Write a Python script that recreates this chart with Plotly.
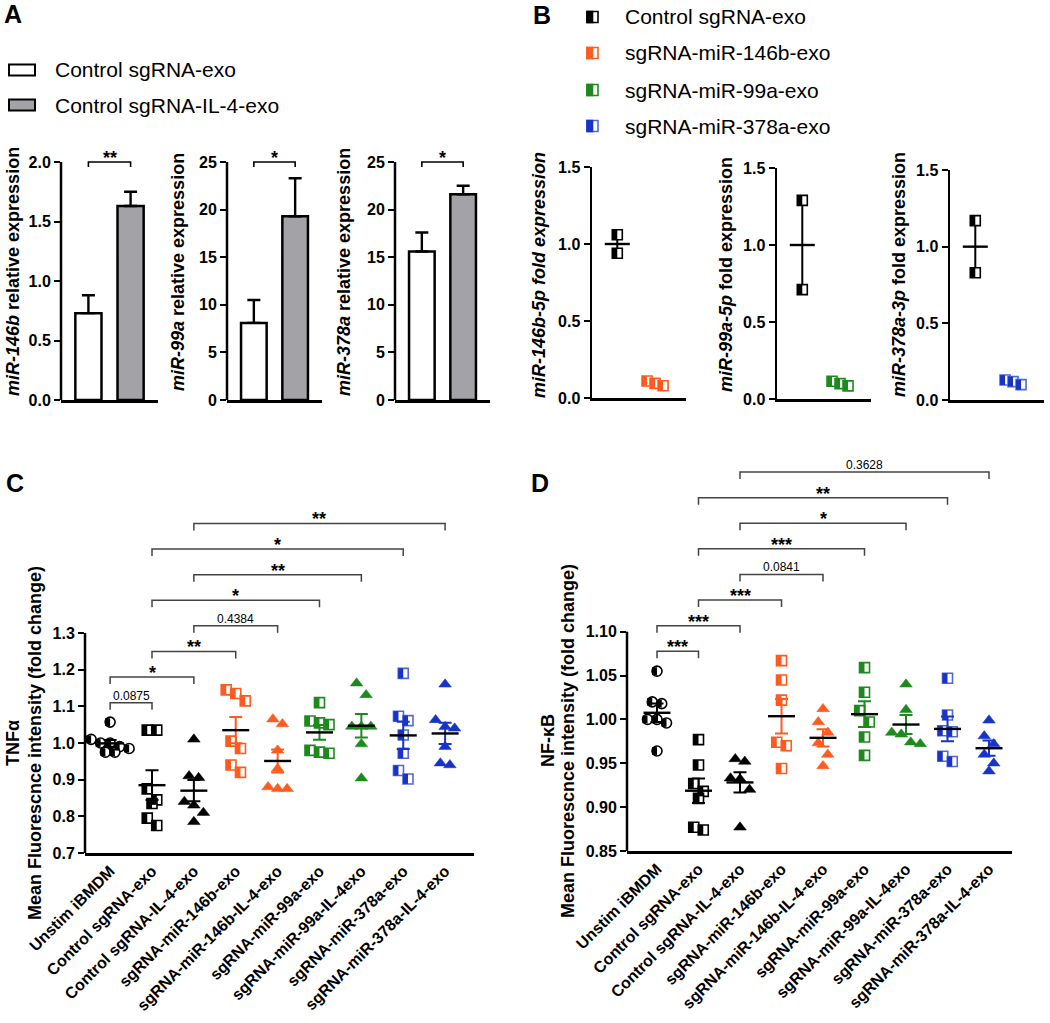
import numpy as np
import plotly.graph_objects as go

W, H = 1050, 1023
FONT = "Arial, 'Liberation Sans', Helvetica, sans-serif"

ORANGE = "#FF5A1F"
GREEN = "#1E8A1E"
BLUE = "#1834C8"
BLUE_EDGE = "#5068DC"
GRAY = "#A3A3A7"

# ---------------- Panel A data ----------------
a_groups = ["Control sgRNA-exo", "Control sgRNA-IL-4-exo"]
a_mir146b_mean = [0.73, 1.63]
a_mir146b_sem = [0.15, 0.12]
a_mir99a_mean = [8.1, 19.3]
a_mir99a_sem = [2.4, 4.0]
a_mir378a_mean = [15.6, 21.6]
a_mir378a_sem = [2.0, 0.9]
a_sig = ["**", "*", "*"]
a_ticks_146b = [0, 0.5, 1.0, 1.5, 2.0]
a_ticks_99a = [0, 5, 10, 15, 20, 25]
a_ticks_378a = [0, 5, 10, 15, 20, 25]
a_titles = ["<b><i>miR-146b</i> relative expression</b>",
            "<b><i>miR-99a</i> relative expression</b>",
            "<b><i>miR-378a</i> relative expression</b>"]

# ---------------- Panel B data ----------------
b_groups = ["Control sgRNA-exo", "sgRNA-miR-146b-exo", "sgRNA-miR-99a-exo", "sgRNA-miR-378a-exo"]
b_mir146b_ctrl = [1.06, 0.94]
b_mir146b_ko = [0.11, 0.095, 0.08]
b_mir99a_ctrl = [1.29, 0.71]
b_mir99a_ko = [0.115, 0.10, 0.085]
b_mir378a_ctrl = [1.17, 0.83]
b_mir378a_ko = [0.13, 0.12, 0.10]
b_ticks = [0.0, 0.5, 1.0, 1.5]
b_titles = ["<b><i>miR-146b-5p fold expression</i></b>",
            "<b><i>miR-99a-5p</i> fold expression</b>",
            "<b><i>miR-378a-3p</i> fold expression</b>"]

# ---------------- Panel C / D data ----------------
cd_groups = ["Unstim iBMDM", "Control sgRNA-exo", "Control sgRNA-IL-4-exo",
             "sgRNA-miR-146b-exo", "sgRNA-miR-146b-IL-4-exo", "sgRNA-miR-99a-exo",
             "sgRNA-miR-99a-IL-4exo", "sgRNA-miR-378a-exo", "sgRNA-miR-378a-IL-4-exo"]

tnf_unstim = [1.057, 1.01, 1.0, 1.0, 0.99, 0.985, 0.975, 0.975]
tnf_ctrl = [1.035, 1.035, 0.875, 0.845, 0.835, 0.795, 0.775]
tnf_ctrl_il4 = [1.01, 0.91, 0.905, 0.84, 0.83, 0.81, 0.785]
tnf_146b = [1.145, 1.135, 1.115, 1.005, 0.985, 0.94, 0.92]
tnf_146b_il4 = [1.065, 1.052, 0.98, 0.93, 0.88, 0.875, 0.875]
tnf_99a = [1.11, 1.06, 1.055, 1.05, 0.98, 0.975, 0.972]
tnf_99a_il4 = [1.163, 1.131, 1.045, 1.045, 1.045, 0.997, 0.904]
tnf_378a = [1.19, 1.073, 1.061, 1.022, 0.972, 0.925, 0.902]
tnf_378a_il4 = [1.16, 1.063, 1.044, 1.04, 0.99, 0.945, 0.94]
tnf_ticks = [0.7, 0.8, 0.9, 1.0, 1.1, 1.2, 1.3]
tnf_comparisons = [(0, 1, "0.0875"), (0, 2, "*"), (1, 3, "**"), (2, 4, "0.4384"),
                   (1, 5, "*"), (2, 6, "**"), (1, 7, "*"), (2, 8, "**")]

nf_unstim = [1.055, 1.02, 1.018, 1.0, 1.0, 0.996, 0.964]
nf_ctrl = [0.977, 0.948, 0.927, 0.918, 0.91, 0.877, 0.874]
nf_ctrl_il4 = [0.955, 0.952, 0.933, 0.932, 0.92, 0.877]
nf_146b = [1.067, 1.045, 1.022, 0.974, 0.97, 0.944]
nf_146b_il4 = [1.012, 0.997, 0.985, 0.973, 0.96, 0.947]
nf_99a = [1.059, 1.031, 1.01, 0.997, 0.98, 0.959]
nf_99a_il4 = [1.04, 1.011, 0.985, 0.983, 0.974, 0.972]
nf_378a = [1.047, 1.005, 0.987, 0.986, 0.958, 0.952]
nf_378a_il4 = [0.999, 0.981, 0.972, 0.96, 0.95, 0.941]
nf_ticks = [0.85, 0.90, 0.95, 1.00, 1.05, 1.10]
nf_comparisons = [(0, 1, "***"), (0, 2, "***"), (1, 3, "***"), (2, 4, "0.0841"),
                  (1, 5, "***"), (2, 6, "*"), (1, 7, "**"), (2, 8, "0.3628")]

# marker style per group (symbol, colour, half-filled, edge colour, error-bar colour)
cd_style = [
    ("circle", "black", True, "black", "black"),
    ("square", "black", True, "black", "black"),
    ("triangle-up", "black", False, "black", "black"),
    ("square", ORANGE, True, ORANGE, ORANGE),
    ("triangle-up", ORANGE, False, ORANGE, ORANGE),
    ("square", GREEN, True, GREEN, GREEN),
    ("triangle-up", GREEN, False, GREEN, GREEN),
    ("square", BLUE, True, BLUE_EDGE, BLUE),
    ("triangle-up", BLUE, False, BLUE, BLUE),
]

# ---------------- helpers ----------------
fig = go.Figure()
shapes, annotations = [], []
layout = dict(width=W, height=H, margin=dict(l=0, r=0, t=0, b=0, pad=0, autoexpand=False),
              autosize=False,
              paper_bgcolor="white", plot_bgcolor="rgba(0,0,0,0)", showlegend=False,
              font=dict(family=FONT, color="black"))


def xr(n): return "x" if n == 1 else f"x{n}"
def yr(n): return "y" if n == 1 else f"y{n}"
def xk(n): return "xaxis" if n == 1 else f"xaxis{n}"
def yk(n): return "yaxis" if n == 1 else f"yaxis{n}"


def ydom_from(v0, p0, v1, p1, r0, r1):
    ppu = (p0 - p1) / (v1 - v0)
    bot = p0 + (v0 - r0) * ppu
    top = p0 - (r1 - v0) * ppu
    return [1 - bot / H, 1 - top / H], ppu


def ptext(xpx, ypx, s, size, xanchor="center", yanchor="middle", angle=0):
    annotations.append(dict(x=xpx / W, y=1 - ypx / H, xref="paper", yref="paper", text=s,
                            showarrow=False, xanchor=xanchor, yanchor=yanchor, textangle=angle,
                            font=dict(size=size, color="black", family=FONT)))


def base_x(n, xd, xrange):
    return dict(domain=[xd[0] / W, xd[1] / W], range=xrange, anchor=yr(n), showgrid=False,
                zeroline=False, showline=True, linecolor="black", linewidth=2.5, ticks="",
                showticklabels=False, fixedrange=True, automargin=False)


def base_y(n, ydom, yrange, tickvals, ticktext, size, showline):
    return dict(domain=ydom, range=yrange, anchor=xr(n), showgrid=False, zeroline=False,
                showline=showline, linecolor="black", linewidth=2.5, ticks="outside", ticklen=6,
                tickwidth=2, tickcolor="black", tickvals=tickvals, ticktext=ticktext,
                tickfont=dict(size=size, color="black", family=FONT, weight="bold"),
                fixedrange=True, automargin=False)


def yline(n, y0, y1):
    shapes.append(dict(type="line", xref=f"{xr(n)} domain", yref=yr(n), x0=0, x1=0, y0=y0, y1=y1,
                       line=dict(color="black", width=2.5), layer="above"))


def swarm(vals, ppu_y, ppu_x, msize, spacing):
    vals = np.asarray(vals, dtype=float)
    order = np.argsort(-vals, kind="stable")
    offs = np.zeros(len(vals))
    clusters = []
    for i in order:
        if clusters and abs(vals[clusters[-1][0]] - vals[i]) * ppu_y < msize * 1.2:
            clusters[-1].append(i)
        else:
            clusters.append([i])
    for cl in clusters:
        k = len(cl)
        for j, idx in enumerate(cl):
            offs[idx] = (j - (k - 1) / 2) * spacing / ppu_x
    return offs


def points(n, x, y, symbol, color, half, edge, size, ppu_x):
    x = np.asarray(x, dtype=float)
    if half:
        fig.add_trace(go.Scatter(x=x, y=y, mode="markers", xaxis=xr(n), yaxis=yr(n),
                                 marker=dict(symbol=symbol, size=size, color="white",
                                             line=dict(color=edge, width=1.6)),
                                 hoverinfo="skip", cliponaxis=False))
        hfac = 0.78 if symbol == "circle" else 1.0
        fig.add_trace(go.Scatter(x=x - (size / 4) / ppu_x, y=y, mode="markers", xaxis=xr(n), yaxis=yr(n),
                                 marker=dict(symbol="line-ns", size=size * hfac / 1.4, color=color,
                                             line=dict(color=color, width=size / 2)),
                                 hoverinfo="skip", cliponaxis=False))
    else:
        fig.add_trace(go.Scatter(x=x, y=y, mode="markers", xaxis=xr(n), yaxis=yr(n),
                                 marker=dict(symbol=symbol, size=size, color=color,
                                             line=dict(color=color, width=0.5)),
                                 hoverinfo="skip", cliponaxis=False))


def mean_sem(n, xc, vals, meancolor, errcolor, mean_px, cap_px, lw):
    v = np.asarray(vals, dtype=float)
    m = v.mean()
    s = v.std(ddof=1) / np.sqrt(len(v))
    fig.add_trace(go.Scatter(x=[xc], y=[m], mode="markers", xaxis=xr(n), yaxis=yr(n),
                             marker=dict(size=1, color="rgba(0,0,0,0)"),
                             error_y=dict(type="data", array=[s], color=errcolor, thickness=lw,
                                          width=cap_px / 2), hoverinfo="skip"))
    fig.add_trace(go.Scatter(x=[xc], y=[m], mode="markers", xaxis=xr(n), yaxis=yr(n),
                             marker=dict(symbol="line-ew", size=mean_px / 1.4, color=meancolor,
                                         line=dict(color=meancolor, width=lw + 0.4)),
                             hoverinfo="skip"))


# ---------------- Panel A ----------------
a_sets = [
    (1, a_mir146b_mean, a_mir146b_sem, a_ticks_146b, [f"{t:.1f}" for t in a_ticks_146b], (61, 158), 13),
    (2, a_mir99a_mean, a_mir99a_sem, a_ticks_99a, [str(t) for t in a_ticks_99a], (227, 322), 178),
    (3, a_mir378a_mean, a_mir378a_sem, a_ticks_378a, [str(t) for t in a_ticks_378a], (395, 490), 344),
]
for i, (n, means, sems, tv, tt, xd, tx) in enumerate(a_sets):
    top = tv[-1]
    ydom, ppu = ydom_from(0, 400, top, 162, 0, top * 1.035)
    layout[xk(n)] = base_x(n, xd, [-0.65, 1.65])
    layout[yk(n)] = base_y(n, ydom, [0, top * 1.035], tv, tt, 16, False)
    yline(n, 0, top)
    fig.add_trace(go.Bar(x=[0, 1], y=means, width=0.62, xaxis=xr(n), yaxis=yr(n),
                         marker=dict(color=["white", GRAY], line=dict(color="black", width=2.5)),
                         error_y=dict(type="data", array=sems, arrayminus=[0, 0], symmetric=False,
                                      color="black", thickness=2.4, width=6.5),
                         hoverinfo="skip"))
    d = 5 / ppu
    shapes.append(dict(type="path", xref=xr(n), yref=yr(n),
                       path=f"M 0,{top - d} L 0,{top} L 1,{top} L 1,{top - d}",
                       line=dict(color="black", width=1.6)))
    annotations.append(dict(x=0.5, y=top, xref=xr(n), yref=yr(n), text=f"<b>{a_sig[i]}</b>",
                            showarrow=False, yanchor="bottom", yshift=-8,
                            font=dict(size=18, color="black", family=FONT)))
    ptext(tx, 272, a_titles[i], 18, angle=-90)

# legend A
legend_a = [("white", a_groups[0], 70), (GRAY, a_groups[1], 105)]
for col, lab, yc in legend_a:
    shapes.append(dict(type="rect", xref="paper", yref="paper", x0=9 / W, x1=35 / W,
                       y0=1 - (yc + 5.5) / H, y1=1 - (yc - 5.5) / H, fillcolor=col,
                       line=dict(color="black", width=2)))
    ptext(53, yc, lab, 21, xanchor="left")

# ---------------- Panel B ----------------
b_sets = [
    (4, b_mir146b_ctrl, b_mir146b_ko, ORANGE, ORANGE, (592, 686), (398, 167), 539),
    (5, b_mir99a_ctrl, b_mir99a_ko, GREEN, GREEN, (777, 871), (399, 168), 726),
    (6, b_mir378a_ctrl, b_mir378a_ko, BLUE, BLUE_EDGE, (950, 1044), (400, 170), 899),
]
for i, (n, ctrl, ko, col, edge, xd, yp, tx) in enumerate(b_sets):
    xrange = [-0.67, 1.82]
    ydom, ppu_y = ydom_from(0, yp[0], 1.5, yp[1], 0, 1.5)
    ppu_x = (xd[1] - xd[0]) / (xrange[1] - xrange[0])
    layout[xk(n)] = base_x(n, xd, xrange)
    layout[yk(n)] = base_y(n, ydom, [0, 1.5], b_ticks, [f"{t:.1f}" for t in b_ticks], 16, True)
    for gi, (vals, c, e) in enumerate([(ctrl, "black", "black"), (ko, col, edge)]):
        offs = swarm(vals, ppu_y, ppu_x, 10, 8)
        mean_sem(n, gi, vals, "black", "black", 25, 8, 2)
        points(n, gi + offs, vals, "square", c, True, e, 10, ppu_x)
    ptext(tx, 275, b_titles[i], 18, angle=-90)

# legend B
legend_b = [("black", "black", b_groups[0], 17), (ORANGE, ORANGE, b_groups[1], 53),
            (GREEN, GREEN, b_groups[2], 90), (BLUE, BLUE_EDGE, b_groups[3], 126)]
for col, edge, lab, yc in legend_b:
    shapes.append(dict(type="rect", xref="paper", yref="paper", x0=587 / W, x1=598 / W,
                       y0=1 - (yc + 5.5) / H, y1=1 - (yc - 5.5) / H, fillcolor="white",
                       line=dict(color=edge, width=1.6)))
    shapes.append(dict(type="rect", xref="paper", yref="paper", x0=587 / W, x1=592.5 / W,
                       y0=1 - (yc + 5.5) / H, y1=1 - (yc - 5.5) / H, fillcolor=col,
                       line=dict(color=col, width=1.6)))
    ptext(623, yc, lab, 21, xanchor="left")


# ---------------- Panels C and D ----------------
def dot_panel(n, data, xd, xrange, yref_pts, yrange, ticks, tickfmt, comps, first_level, ytitle, tx, ty):
    ydom, ppu_y = ydom_from(yref_pts[0][0], yref_pts[0][1], yref_pts[1][0], yref_pts[1][1],
                            yrange[0], yrange[1])
    ppu_x = (xd[1] - xd[0]) / (xrange[1] - xrange[0])
    ax = base_x(n, xd, xrange)
    ax.update(showticklabels=True, tickvals=list(range(len(cd_groups))), ticktext=cd_groups,
              tickangle=-45, tickfont=dict(size=16, color="black", family=FONT, weight="bold"))
    layout[xk(n)] = ax
    layout[yk(n)] = base_y(n, ydom, yrange, ticks, [tickfmt.format(t) for t in ticks], 16, False)
    yline(n, yrange[0], ticks[-1])
    for gi, vals in enumerate(data):
        sym, col, half, edge, ecol = cd_style[gi]
        size = 11 if sym == "triangle-up" else 10
        offs = swarm(vals, ppu_y, ppu_x, 10, 9.5)
        points(n, gi + offs, vals, sym, col, half, edge, size, ppu_x)
    for gi, vals in enumerate(data):
        sym, col, half, edge, ecol = cd_style[gi]
        mean_sem(n, gi, vals, "black", ecol, 27, 13, 2)
    step = 25.6 / ppu_y
    drop = 7 / ppu_y
    for k, (g0, g1, lab) in enumerate(comps):
        yb = first_level + k * step
        shapes.append(dict(type="path", xref=xr(n), yref=yr(n),
                           path=f"M {g0},{yb - drop} L {g0},{yb} L {g1},{yb} L {g1},{yb - drop}",
                           line=dict(color="#444444", width=1.5)))
        star = lab.startswith("*")
        annotations.append(dict(x=(g0 + g1) / 2, y=yb, xref=xr(n), yref=yr(n),
                                text=f"<b>{lab}</b>" if star else lab, showarrow=False,
                                yanchor="bottom", yshift=-8 if star else -2,
                                font=dict(size=18 if star else 12, color="black", family=FONT)))
    ptext(tx[0], ty, ytitle, 18, angle=-90)
    ptext(tx[1], ty, "<b>Mean Fluorescnce intensity (fold change)</b>", 18, angle=-90)


tnf_data = [tnf_unstim, tnf_ctrl, tnf_ctrl_il4, tnf_146b, tnf_146b_il4, tnf_99a, tnf_99a_il4,
            tnf_378a, tnf_378a_il4]
nf_data = [nf_unstim, nf_ctrl, nf_ctrl_il4, nf_146b, nf_146b_il4, nf_99a, nf_99a_il4,
           nf_378a, nf_378a_il4]

dot_panel(7, tnf_data, (85, 474), [-0.6, 8.69], [(0.7, 853), (1.3, 633)], [0.7, 1.65],
          tnf_ticks, "{:.1f}", tnf_comparisons, 1.11, "<b>TNFα</b>", (13, 35), 743)
dot_panel(8, nf_data, (627, 1012), [-0.723, 8.554], [(0.85, 851), (1.10, 631.7)], [0.85, 1.30],
          nf_ticks, "{:.2f}", nf_comparisons, 1.0777, "<b>NF-κB</b>", (548, 568), 741)

# panel letters
for lab, xp, ypx in [("A", 13, 14), ("B", 542, 15), ("C", 15, 483), ("D", 540, 483)]:
    ptext(xp, ypx, f"<b>{lab}</b>", 25)

layout["shapes"] = shapes
layout["annotations"] = annotations
fig.update_layout(**layout)
fig.write_html("out.html", config={"displayModeBar": False, "staticPlot": True},
               post_script="document.body.style.margin='0';document.body.style.overflow='hidden';")
